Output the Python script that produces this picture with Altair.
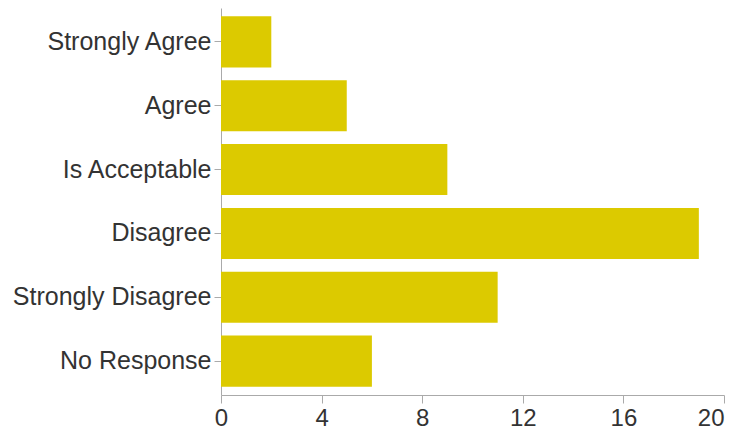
import altair as alt
import pandas as pd

categories = ["Strongly Agree", "Agree", "Is Acceptable", "Disagree", "Strongly Disagree", "No Response"]
counts = [2, 5, 9, 19, 11, 6]

df = pd.DataFrame({"response": categories, "count": counts})

chart = alt.Chart(df).mark_bar(color="#DCCA00").encode(
    x=alt.X("count:Q", title=None,
            scale=alt.Scale(domain=[0, 20], nice=False),
            axis=alt.Axis(values=[0, 4, 8, 12, 16, 20], grid=False,
                          labelFontSize=24, labelFont="Liberation Sans",
                          labelColor="#333333", domainColor="#AAAAAA",
                          tickColor="#AAAAAA", tickSize=8, labelPadding=3,
                          labelFlush=False,
                          labelAlign={"condition": {"test": "datum.value == 20", "value": "right"},
                                      "value": "center"})),
    y=alt.Y("response:N", title=None, sort=categories,
            scale=alt.Scale(paddingInner=0.2, paddingOuter=0.13),
            axis=alt.Axis(labelFontSize=25, labelFont="Liberation Sans",
                          labelColor="#333333", domainColor="#AAAAAA",
                          tickColor="#AAAAAA", tickSize=7, labelPadding=3,
                          labelLimit=300)),
).properties(
    width=503, height=387,
    autosize=alt.AutoSizeParams(type="none"),
    padding={"left": 213, "top": 0, "right": 1, "bottom": 40},
).configure_view(stroke=None)

chart.save("out.html", embed_options={"renderer": "svg", "actions": False})
